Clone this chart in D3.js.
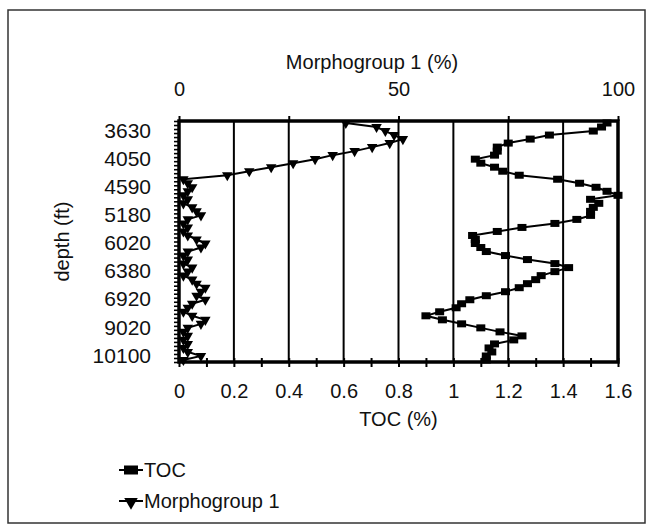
<!DOCTYPE html>
<html><head><meta charset="utf-8">
<script src="https://cdn.jsdelivr.net/npm/d3@7"></script>
<style>
html,body{margin:0;padding:0;background:#fff;}
text{font-family:"Liberation Sans",Arial,sans-serif;fill:#111;}
</style></head>
<body>
<svg id="chart" width="652" height="530"></svg>
<script>
// ---- data ----
const depthLabels = ["3630","4050","4590","5180","6020","6380","6920","9020","10100"];
const labelIndex = [2,9,16,23,30,37,44,51,58];
const samples = d3.range(60);
const toc = [1.56,1.54,1.51,1.35,1.28,1.20,1.16,1.16,1.15,1.08,
             1.10,1.15,1.18,1.24,1.38,1.46,1.52,1.56,1.60,1.50,
             1.53,1.51,1.50,1.50,1.45,1.37,1.25,1.16,1.07,1.08,
             1.08,1.10,1.12,1.19,1.27,1.37,1.42,1.37,1.32,1.30,
             1.27,1.24,1.19,1.12,1.06,1.03,1.01,0.95,0.90,0.96,
             1.03,1.10,1.17,1.25,1.22,1.15,1.13,1.14,1.12,1.12];
const morpho = [38,45,47,49,51,48,44,40,35,31,
                26,21,16,11,1,2,3,2,1,2,
                1,3,4,5,2,1,2,1,2,4,
                6,5,2,1,2,1,3,2,1,3,
                4,6,5,4,6,3,2,1,3,6,
                5,2,1,2,1,2,1,2,5,1];
const tocTicks = [0,0.1,0.2,0.3,0.4,0.5,0.6,0.7,0.8,0.9,1.0,1.1,1.2,1.3,1.4,1.5,1.6];
const tocLabels = [0,0.2,0.4,0.6,0.8,1,1.2,1.4,1.6];
const morphTicks = [0,25,50,75,100];
const morphLabels = [0,50,100];

// ---- layout ----
const L=179, R=618, T=121, B=362, FS=20;
const svg = d3.select("#chart");
const xT = d3.scaleLinear().domain([0,1.6]).range([L,R]);
const xM = d3.scaleLinear().domain([0,100]).range([L,R]);
const y = d3.scaleBand().domain(samples).range([T,B]).padding(0);
const yTick = d3.scaleLinear().domain([0,samples.length]).range([T,B]);
const yc = i => y(i) + y.bandwidth()/2;

// outer border
svg.append("rect").attr("x",8).attr("y",10).attr("width",637).attr("height",513)
  .attr("fill","none").attr("stroke","#333").attr("stroke-width",1.5);

// grid
svg.append("g").selectAll("line").data(tocLabels.filter(d=>d>0 && d<1.6)).join("line")
  .attr("x1",d=>xT(d)).attr("x2",d=>xT(d)).attr("y1",T).attr("y2",B)
  .attr("stroke","#000").attr("stroke-width",2);

// axes
const gb = svg.append("g").attr("transform",`translate(0,${B})`)
  .call(d3.axisBottom(xT).tickValues(tocTicks).tickSize(5).tickPadding(17)
    .tickFormat(d => tocLabels.some(v=>Math.abs(v-d)<1e-9) ? d3.format("~g")(d) : ""));
gb.selectAll(".tick line").attr("y1",-4).attr("y2",5).attr("stroke","#000").attr("stroke-width",2);
gb.select(".domain").remove();
gb.selectAll("text").attr("font-size",FS);

const gt = svg.append("g").attr("transform",`translate(0,${T})`)
  .call(d3.axisTop(xM).tickValues(morphTicks).tickSize(5).tickPadding(20)
    .tickFormat(d => morphLabels.includes(d) ? d : ""));
gt.selectAll(".tick line").attr("stroke","#000").attr("stroke-width",2);
gt.select(".domain").remove();
gt.selectAll("text").attr("font-size",FS);

const gl = svg.append("g").attr("transform",`translate(${L},0)`)
  .call(d3.axisLeft(yTick).tickValues(d3.range(samples.length+1)).tickSize(5).tickFormat(""));
gl.selectAll(".tick line").attr("stroke","#000").attr("stroke-width",1.6);
gl.select(".domain").remove();

const gll = svg.append("g").attr("transform",`translate(${L-28},0)`)
  .call(d3.axisLeft(y).tickValues(labelIndex).tickSize(0).tickPadding(0)
    .tickFormat((d,i)=>depthLabels[i]));
gll.select(".domain").remove();
gll.selectAll("text").attr("font-size",FS+1);

// frame
svg.append("rect").attr("x",L).attr("y",T).attr("width",R-L).attr("height",B-T)
  .attr("fill","none").attr("stroke","#000").attr("stroke-width",3.5);

// series
const lineT = d3.line().x(d=>xT(d)).y((d,i)=>yc(i));
const lineM = d3.line().x(d=>xM(d)).y((d,i)=>yc(i));
svg.append("path").datum(morpho).attr("d",lineM).attr("fill","none").attr("stroke","#000").attr("stroke-width",2);
svg.append("path").datum(toc).attr("d",lineT).attr("fill","none").attr("stroke","#000").attr("stroke-width",2);
const tri = d3.symbol().type(d3.symbolTriangle).size(48);
svg.append("g").selectAll("path").data(morpho).join("path")
  .attr("d",tri).attr("transform",(d,i)=>`translate(${xM(d)},${yc(i)}) rotate(180)`).attr("fill","#000");
svg.append("g").selectAll("rect").data(toc).join("rect")
  .attr("x",d=>xT(d)-4.5).attr("y",(d,i)=>yc(i)-3.5).attr("width",9).attr("height",7).attr("fill","#000");

// titles
svg.append("text").attr("x",372).attr("y",69).attr("text-anchor","middle").attr("font-size",FS).text("Morphogroup 1 (%)");
svg.append("text").attr("x",(L+R)/2).attr("y",426).attr("text-anchor","middle").attr("font-size",FS).text("TOC (%)");
svg.append("text").attr("transform",`translate(69,${(T+B)/2}) rotate(-90)`).attr("text-anchor","middle").attr("font-size",FS).text("depth (ft)");

// legend
const legend = [{name:"TOC",shape:"sq"},{name:"Morphogroup 1",shape:"tri"}];
const lg = svg.append("g").selectAll("g").data(legend).join("g")
  .attr("transform",(d,i)=>`translate(119,${470+i*31})`);
lg.append("line").attr("x1",0).attr("x2",24).attr("stroke","#000").attr("stroke-width",2);
lg.filter(d=>d.shape==="sq").append("rect").attr("x",5).attr("y",-4.5).attr("width",14).attr("height",9).attr("fill","#000");
lg.filter(d=>d.shape==="tri").append("path").attr("d",d3.symbol().type(d3.symbolTriangle).size(80))
  .attr("transform","translate(12,1) rotate(180)").attr("fill","#000");
lg.append("text").attr("x",25).attr("dy","0.35em").attr("font-size",FS).text(d=>d.name);
</script>
</body></html>
